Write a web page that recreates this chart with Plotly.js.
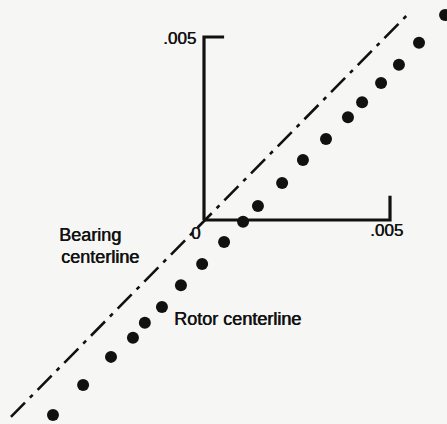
<!DOCTYPE html>
<html>
<head>
<meta charset="utf-8">
<script src="https://cdn.plot.ly/plotly-3.0.1.min.js"></script>
<style>html,body{margin:0;padding:0;background:#f6f6f4;}#chart{width:447px;height:424px;}</style>
</head>
<body>
<div id="chart"></div>
<script>
// Rotor centerline points (orbit displacement, inches)
const rotorX = [0.00648, 0.00578, 0.00524, 0.00476, 0.00425, 0.00387, 0.00328, 0.00266, 0.00210, 0.00145,
                0.00105, 0.00054, -0.00005, -0.00062, -0.00113, -0.00159, -0.00191, -0.00250, -0.00325, -0.00406];
const rotorY = [0.00560, 0.00484, 0.00424, 0.00374, 0.00322, 0.00281, 0.00221, 0.00164, 0.00101, 0.00038,
                -0.00005, -0.00060, -0.00120, -0.00178, -0.00238, -0.00281, -0.00322, -0.00374, -0.00451, -0.00533];
// Bearing centerline (dash-dot line)
const bearingX = [-0.00519, 0.00546];
const bearingY = [-0.00538, 0.00560];
// Axis frame
const vAxisX = [0.00054, 0, 0];
const vAxisY = [0.005, 0.005, 0];
const hAxisX = [0, 0.005, 0.005];
const hAxisY = [0, 0, 0.00066];
const tickLabels = ['.005', '0', '.005'];

const ink = '#111111';
const fnt = 'Liberation Sans, Arial, sans-serif';

const traces = [
  {x: bearingX, y: bearingY, mode: 'lines', line: {color: ink, width: 2.6, dash: '20px,7px,4px,7px'}, hoverinfo: 'skip'},
  {x: vAxisX, y: vAxisY, mode: 'lines', line: {color: ink, width: 3.2}, hoverinfo: 'skip'},
  {x: hAxisX, y: hAxisY, mode: 'lines', line: {color: ink, width: 3.2}, hoverinfo: 'skip'},
  {x: rotorX, y: rotorY, mode: 'markers', marker: {color: ink, size: 12}, cliponaxis: false, hoverinfo: 'skip'}
];

function ann(text, px, py, xa, size) {
  return {text: text, xref: 'paper', yref: 'paper', x: px / 447, y: 1 - py / 424,
          xanchor: xa, yanchor: 'middle', showarrow: false,
          font: {family: fnt, size: size, color: ink, shadow: '0.6px 0 0 #111111'}};
}

const layout = {
  width: 447, height: 424,
  margin: {l: 0, r: 0, t: 0, b: 0},
  paper_bgcolor: '#f6f6f4', plot_bgcolor: '#f6f6f4',
  showlegend: false,
  xaxis: {range: [-0.0054839, 0.0065323], visible: false, fixedrange: true},
  yaxis: {range: [-0.0055738, 0.0060109], visible: false, fixedrange: true},
  annotations: [
    ann(tickLabels[0], 198, 39, 'right', 17),
    ann(tickLabels[1], 195, 233, 'center', 17),
    ann(tickLabels[2], 386, 230, 'center', 17),
    ann('Bearing', 57, 235, 'left', 18),
    ann('centerline', 59, 257, 'left', 18),
    ann('Rotor centerline', 172, 319, 'left', 18)
  ]
};

Plotly.newPlot('chart', traces, layout, {staticPlot: true, displayModeBar: false});
</script>
</body>
</html>
